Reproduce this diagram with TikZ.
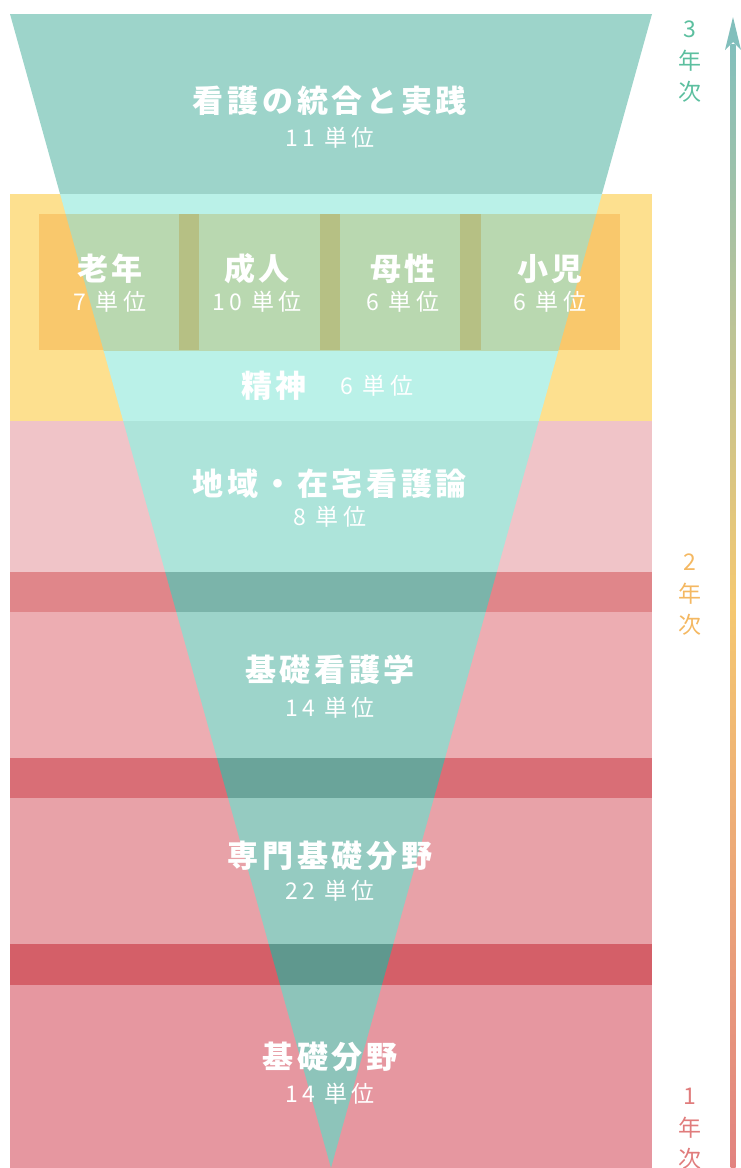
\documentclass[tikz,border=0pt]{standalone}
\usepackage{fontspec}
\setmainfont{Noto Sans CJK JP}
\newfontfamily\jptitle[LetterSpace=12]{Noto Sans CJK JP}
\newfontfamily\jpunit[LetterSpace=18]{Noto Sans CJK JP}
\newfontfamily\jpyear{Noto Sans CJK JP}
\definecolor{triW}{HTML}{9DD4CA}
\definecolor{bandY}{HTML}{FDE08F}
\definecolor{triY}{HTML}{BAF1E8}
\definecolor{boxO}{HTML}{F9C86C}
\definecolor{boxG}{HTML}{B9D8B0}
\definecolor{sepG}{HTML}{B6C084}
\definecolor{bandA}{HTML}{F0C4C8}
\definecolor{triA}{HTML}{ADE4DA}
\definecolor{bandB}{HTML}{E0868A}
\definecolor{triB}{HTML}{7BB4AA}
\definecolor{bandC}{HTML}{EDADB2}
\definecolor{triC}{HTML}{9DD4CA}
\definecolor{bandD}{HTML}{D96E76}
\definecolor{triD}{HTML}{6AA49A}
\definecolor{bandE}{HTML}{E8A2A8}
\definecolor{triE}{HTML}{95CBC1}
\definecolor{bandF}{HTML}{D45F68}
\definecolor{triF}{HTML}{5F988E}
\definecolor{bandG}{HTML}{E697A0}
\definecolor{triG}{HTML}{8DC4BA}
\definecolor{yr3}{HTML}{5CBF9F}
\definecolor{yr2}{HTML}{F4B862}
\definecolor{yr1}{HTML}{E07C7C}
\definecolor{arT}{HTML}{82BFBC}
\definecolor{arM}{HTML}{F5C870}
\definecolor{arB}{HTML}{E28380}
\tikzset{
  title/.style={text=white, inner sep=0pt, font=\jptitle\fontsize{31}{34}\selectfont\bfseries},
  unit/.style={text=white, inner sep=0pt, font=\jpunit\fontsize{23}{26}\selectfont},
  year/.style={inner sep=0pt, align=center, font=\jpyear\fontsize{23}{31.5}\selectfont},
}
\newcommand{\tripath}{(10,14) -- (652,14) -- (331,1168) -- cycle}
\newcommand{\band}[4]{%
  \fill[#3] (10,#1) rectangle (652,#2);
  \begin{scope}\clip (10,#1) rectangle (652,#2); \fill[#4] \tripath; \end{scope}}
\begin{document}
\begin{tikzpicture}[x=1pt,y=-1pt]
\useasboundingbox (0,0) rectangle (741,1168);
% top part of the funnel over white
\begin{scope}\clip (0,0) rectangle (741,194); \fill[triW] \tripath; \end{scope}
% bands
\band{194}{421}{bandY}{triY}
\band{421}{572}{bandA}{triA}
\band{572}{612}{bandB}{triB}
\band{612}{758}{bandC}{triC}
\band{758}{798}{bandD}{triD}
\band{798}{944}{bandE}{triE}
\band{944}{985}{bandF}{triF}
\band{985}{1168}{bandG}{triG}
% inner box of the yellow band
\fill[boxO] (39,214) rectangle (620,350);
\begin{scope}\clip (39,214) rectangle (620,350);
  \fill[boxG] \tripath;
\end{scope}
\fill[sepG] (179,214) rectangle (199,350);
\fill[sepG] (320,214) rectangle (340,350);
\fill[sepG] (460,214) rectangle (481,350);
% texts
\node[title] (t1) at (330,101) {看護の統合と実践};
\node[unit]  (u1) at (330,138) {11 単位};
\node[title] (t2) at (110,269) {老年};
\node[unit]  (u2) at (110,302) {7 単位};
\node[title] (t3) at (257,269) {成人};
\node[unit]  (u3) at (257,302) {10 単位};
\node[title] (t4) at (403,269) {母性};
\node[unit]  (u4) at (403,302) {6 単位};
\node[title] (t5) at (550,269) {小児};
\node[unit]  (u5) at (550,302) {6 単位};
\node[title] (t6) at (274,386) {精神};
\node[unit]  (u6) at (377,386) {6 単位};
\node[title] (t7) at (330,484) {地域・在宅看護論};
\node[unit]  (u7) at (330,517) {8 単位};
\node[title] (t8) at (330,670) {基礎看護学};
\node[unit]  (u8) at (330,708) {14 単位};
\node[title] (t9) at (330,856) {専門基礎分野};
\node[unit]  (u9) at (330,891) {22 単位};
\node[title] (t10) at (330,1057) {基礎分野};
\node[unit]  (u10) at (330,1094) {14 単位};
% year labels
\node[year, text=yr3] (y3) at (690,62) {3\\年\\次};
\node[year, text=yr2] (y2) at (690,595) {2\\年\\次};
\node[year, text=yr1] (y1) at (690,1129) {1\\年\\次};
% gradient arrow
\coordinate (abot) at (733,1168);
\coordinate (atip) at (733,17);
\shade[top color=arT, bottom color=arB, middle color=arM] (730.5,44) rectangle (735.5,1168);
\fill[arT] (atip) -- (741,50) -- (733,42) -- (725,50) -- cycle;
\end{tikzpicture}
\end{document}
